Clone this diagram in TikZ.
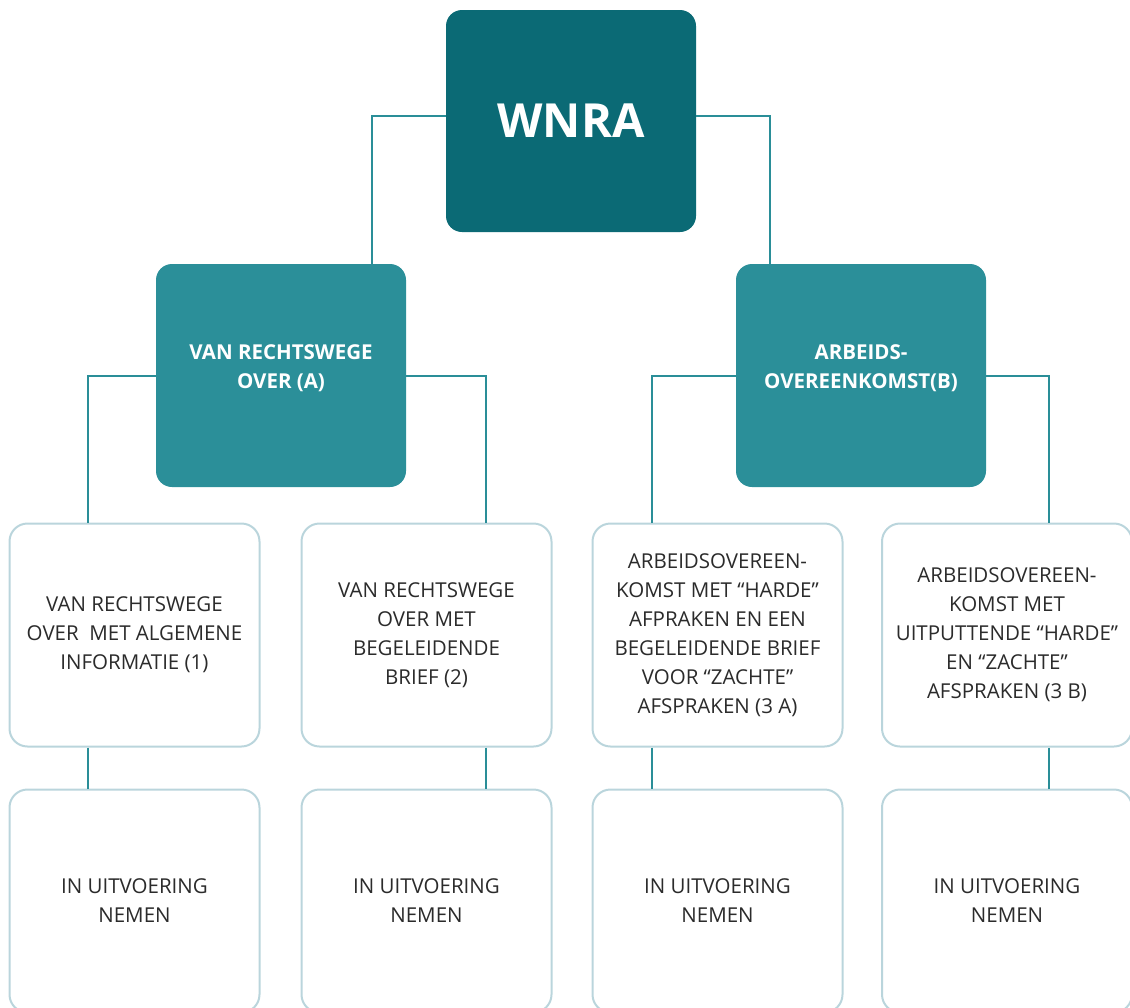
\documentclass[tikz,border=0pt]{standalone}
\usepackage{fontspec}
\setmainfont{Open Sans}
\definecolor{darkteal}{HTML}{0B6A75}
\definecolor{midteal}{HTML}{2B8F99}
\definecolor{lineteal}{HTML}{2A8E98}
\definecolor{lightborder}{HTML}{BAD5DC}
\definecolor{txt}{HTML}{2B2B2B}
\begin{document}
\begin{tikzpicture}[x=1pt,y=-1pt,
  topbox/.style={draw=none,fill=darkteal,rounded corners=16pt,minimum width=250pt,minimum height=222pt,inner sep=0pt,text=white,font=\bfseries\fontsize{47}{53}\selectfont},
  midbox/.style={draw=none,fill=midteal,rounded corners=16pt,minimum width=250pt,minimum height=223pt,inner sep=0pt},
  midtext/.style={text=white,align=center,font=\bfseries\fontsize{20.5}{28.5}\selectfont},
  lowbox/.style={draw=lightborder,line width=2pt,fill=white,rounded corners=18pt,minimum width=250pt,minimum height=223pt,inner sep=0pt,text=txt,align=center,font=\fontsize{20.5}{29}\selectfont},
  conn/.style={draw=lineteal,line width=2pt}]
\useasboundingbox (0,0) rectangle (1130,1007);
% top
\node[topbox] (wnra) at (571,121) {WNRA};
% level 2
\node[midbox] (l2a) at (281,375.5) {};
\node[midtext] (t2a) at (281,368) {VAN RECHTSWEGE\\OVER (A)};
\node[midbox] (l2b) at (861,375.5) {};
\node[midtext] (t2b) at (861,368) {ARBEIDS-\\OVEREENKOMST(B)};
% level 3
\node[lowbox] (l3a) at (134.5,635) {VAN RECHTSWEGE\\OVER\ \ MET ALGEMENE\\INFORMATIE (1)};
\node[lowbox] (l3b) at (426.5,635) {VAN RECHTSWEGE\\OVER MET\\BEGELEIDENDE\\BRIEF (2)};
\node[lowbox] (l3c) at (717.5,635) {ARBEIDSOVEREEN-\\KOMST MET “HARDE”\\AFPRAKEN EN EEN\\BEGELEIDENDE BRIEF\\VOOR “ZACHTE”\\AFSPRAKEN (3 A)};
\node[lowbox] (l3d) at (1007,635) {ARBEIDSOVEREEN-\\KOMST MET\\UITPUTTENDE “HARDE”\\EN “ZACHTE”\\AFSPRAKEN (3 B)};
% level 4
\node[lowbox] (l4a) at (134.5,901) {IN UITVOERING\\NEMEN};
\node[lowbox] (l4b) at (426.5,901) {IN UITVOERING\\NEMEN};
\node[lowbox] (l4c) at (717.5,901) {IN UITVOERING\\NEMEN};
\node[lowbox] (l4d) at (1007,901) {IN UITVOERING\\NEMEN};
% connector coordinates
\coordinate (yw) at (0,116);
\coordinate (x1) at (372,0);
\coordinate (x2) at (770,0);
\coordinate (xa) at (88,0);
\coordinate (xb) at (486,0);
\coordinate (xc) at (652,0);
\coordinate (xd) at (1049,0);
% connectors
\draw[conn] (wnra.west |- yw) -| (x1 |- l2a.north);
\draw[conn] (wnra.east |- yw) -| (x2 |- l2b.north);
\draw[conn] (l2a.west) -| (xa |- l3a.north);
\draw[conn] (l2a.east) -| (xb |- l3b.north);
\draw[conn] (l2b.west) -| (xc |- l3c.north);
\draw[conn] (l2b.east) -| (xd |- l3d.north);
\draw[conn] (xa |- l3a.south) -- (xa |- l4a.north);
\draw[conn] (xb |- l3b.south) -- (xb |- l4b.north);
\draw[conn] (xc |- l3c.south) -- (xc |- l4c.north);
\draw[conn] (xd |- l3d.south) -- (xd |- l4d.north);
\end{tikzpicture}
\end{document}
